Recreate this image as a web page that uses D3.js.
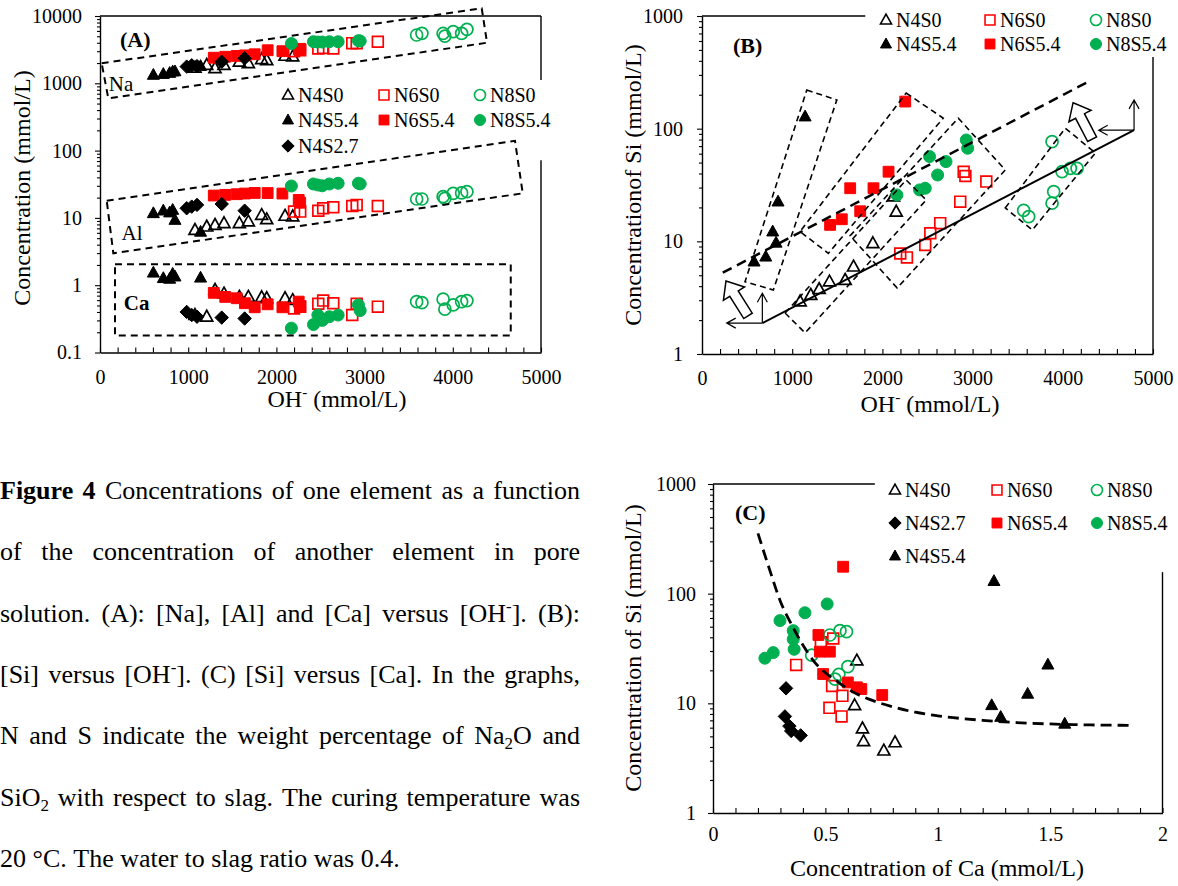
<!DOCTYPE html>
<html><head><meta charset="utf-8">
<script src="https://cdn.jsdelivr.net/npm/d3@7"></script>
<style>
body{margin:0;background:#fff;}
svg{display:block;font-family:"Liberation Serif","Times New Roman",serif;}
</style></head><body>
<script>
// ================= DATA =================
// ---- Panel A : [OH-] vs [Na], [Al], [Ca] (mmol/L) ----
const A_OH_N4S0 = [1077, 1210, 1304, 1406, 1580, 1682, 1833, 1890, 2098, 2185];
const A_Na_N4S0 = [1700, 1870, 1670, 1870, 2090, 1980, 2280, 2200, 2550, 2500];
const A_Al_N4S0 = [6.6, 7.4, 7.85, 8.3, 8.3, 8.8, 11, 9.5, 10.7, 10.5];
const A_Ca_N4S0 = [0.36, 0.34, 0.85, 0.75, 0.67, 0.67, 0.66, 0.64, 0.64, 0.60];

const A_OH_N4S54 = [605, 718, 790, 824, 850, 1140];
const A_Na_N4S54 = [1330, 1370, 1420, 1490, 1500, 1800];
const A_Al_N4S54 = [11.7, 12.8, 12.0, 13.1, 9.3, 6.2];
const A_Ca_N4S54 = [1.53, 1.27, 1.24, 1.47, 1.34, 1.29];

const A_OH_N4S27 = [983, 1040, 1100, 1380, 1640];
const A_Na_N4S27 = [1770, 1850, 1800, 2090, 2350];
const A_Al_N4S27 = [13.9, 14.7, 15.6, 16.1, 12.8];
const A_Ca_N4S27 = [0.40, 0.36, 0.34, 0.33, 0.32];

const A_OH_N6S0 = [2200, 2270, 2475, 2530, 2645, 2860, 2910, 3150];
const A_Na_N6S0 = [3000, 3100, 3300, 3350, 3300, 3950, 3930, 4150];
const A_Al_N6S0 = [12.4, 12.4, 12.8, 13.9, 14.4, 15.0, 15.6, 15.0];
const A_Ca_N6S0 = [0.45, 0.48, 0.53, 0.59, 0.54, 0.36, 0.53, 0.48];

const A_OH_N6S54 = [1290, 1420, 1550, 1643, 1754, 1901, 2068, 2253, 2270];
const A_Na_N6S54 = [2400, 2480, 2550, 2600, 2700, 3100, 3000, 3200, 3250];
const A_Al_N6S54 = [21.5, 22, 22.5, 23, 23.5, 23.4, 23, 18.5, 16.8];
const A_Ca_N6S54 = [0.77, 0.67, 0.64, 0.54, 0.47, 0.52, 0.47, 0.57, 0.49];

const A_OH_N8S0 = [3590, 3650, 3890, 3910, 4005, 4100, 4160];
const A_Na_N8S0 = [5220, 5530, 5500, 5030, 5850, 5530, 6340];
const A_Al_N8S0 = [19.1, 19.1, 20.7, 19.5, 23.2, 23.5, 24.5];
const A_Ca_N8S0 = [0.57, 0.55, 0.62, 0.44, 0.51, 0.57, 0.59];

const A_OH_N8S54 = [2170, 2420, 2470, 2520, 2600, 2700, 2930, 2950];
const A_Na_N8S54 = [3900, 4150, 4100, 4100, 4150, 4150, 4300, 4250];
const A_Al_N8S54 = [29.8, 31.9, 30.8, 30, 31.9, 32.7, 32.7, 32];
const A_Ca_N8S54 = [0.23, 0.26, 0.36, 0.30, 0.34, 0.36, 0.51, 0.42];

// dashed group boxes of panel A (corner points, data units)
const A_boxNa_OH = [19, 4328, 4388, 94];
const A_boxNa_C  = [1983, 13000, 4010, 598];
const A_boxAl_OH = [76, 4705, 4793, 151];
const A_boxAl_C  = [18.0, 140, 23.2, 2.98];
const A_boxCa_OH = [170, 4657];
const A_boxCa_C  = [2.05, 0.179];

// ---- Panel B : [OH-] vs [Si] ----
const B_OH_N4S0 = [1088, 1206, 1299, 1413, 1587, 1680, 1894, 2123, 2153];
const B_Si_N4S0 = [2.92, 3.34, 3.76, 4.39, 4.54, 5.96, 9.6, 25, 18.3];
const B_OH_N4S54 = [577, 707, 784, 821, 843, 1143];
const B_Si_N4S54 = [6.6, 7.3, 12.2, 9.7, 22.5, 128];
const B_OH_N6S0 = [2198, 2272, 2475, 2531, 2641, 2863, 2901, 2920, 3152];
const B_Si_N6S0 = [7.8, 7.2, 9.3, 11.8, 14.5, 22.5, 41.5, 38, 33.9];
const B_OH_N6S54 = [1420, 1550, 1643, 1754, 1901, 2068, 2253];
const B_Si_N6S54 = [14.0, 15.7, 29.6, 18.5, 29.6, 41.5, 174];
const B_OH_N8S0 = [3566, 3622, 3881, 3899, 3881, 3992, 4084, 4158];
const B_Si_N8S0 = [18.8, 16.6, 21.8, 27.6, 76.7, 41.5, 44.5, 44.5];
const B_OH_N8S54 = [2161, 2412, 2475, 2523, 2612, 2705, 2930, 2945];
const B_Si_N8S54 = [25.8, 28.6, 29.6, 56.5, 38.8, 51, 79.4, 67];

// lines of panel B
const B_solidOH = [669, 4790];
const B_solidSi = [1.88, 97];
const B_dashOH = [230, 4306];
const B_dashSi = [5.27, 267];
// thin arrows: origin OH, origin Si, left-end OH, top-end Si
const B_thinArrows = [[669, 1.88, 274, 3.46], [4790, 97, 4398, 180]];
// block arrows: tip OH, tip Si, tail OH, tail Si
const B_blockArrows = [[266, 4.45, 510, 2.18], [4114, 170, 4325, 80.6]];
// dashed group boxes (4 corners each: OH list, Si list)
const B_boxes_OH = [
  [1162, 1495, 791, 477],
  [2264, 2674, 1401, 1087],
  [921, 1143, 2486, 2264],
  [2841, 3362, 2164, 1642],
  [3362, 4028, 4361, 3662]
];
const B_boxes_Si = [
  [220, 180, 3.70, 4.38],
  [207, 124, 7.83, 12.2],
  [2.31, 1.54, 23.3, 35.0],
  [124, 43.0, 3.85, 11.2],
  [19.8, 101, 60.8, 12.6]
];

// ---- Panel C : [Ca] vs [Si] ----
const C_Ca_N4S0 = [0.64, 0.63, 0.665, 0.67, 0.76, 0.81];
const C_Si_N4S0 = [24.5, 9.6, 5.9, 4.5, 3.7, 4.4];
const C_Ca_N4S27 = [0.325, 0.32, 0.34, 0.348, 0.39];
const C_Si_N4S27 = [13.7, 7.6, 6.2, 5.6, 5.1];
const C_Ca_N4S54 = [1.25, 1.24, 1.28, 1.40, 1.49, 1.565];
const C_Si_N4S54 = [130, 9.6, 7.5, 12.2, 22.5, 6.5];
const C_Ca_N6S0 = [0.37, 0.48, 0.535, 0.53, 0.576, 0.518, 0.572];
const C_Si_N6S0 = [22.4, 36, 39, 14.4, 11.7, 9.1, 7.6];
const C_Ca_N6S54 = [0.579, 0.469, 0.476, 0.52, 0.49, 0.60, 0.64, 0.66, 0.753];
const C_Si_N6S54 = [176, 42, 29.6, 29.6, 18.5, 15.5, 14, 13.5, 11.9];
const C_Ca_N8S0 = [0.52, 0.565, 0.594, 0.439, 0.60, 0.543, 0.56];
const C_Si_N8S0 = [42, 46, 45, 27.5, 21.6, 16.6, 18.4];
const C_Ca_N8S54 = [0.231, 0.268, 0.298, 0.357, 0.409, 0.508, 0.357, 0.361];
const C_Si_N8S54 = [25.8, 29, 56.8, 46, 67, 80.6, 38.4, 31.1];
// dashed trend curve
const C_curveCa = [0.2, 0.25, 0.3, 0.35, 0.4, 0.45, 0.5, 0.55, 0.6, 0.7, 0.8, 0.9, 1.0, 1.2, 1.4, 1.6, 1.85];
const C_curveSi = [355, 170, 85, 52, 34, 24, 19, 16, 13.5, 10.8, 9.3, 8.3, 7.7, 7.0, 6.6, 6.4, 6.3];

// ---- ticks ----
const A_xTicks = [0, 1000, 2000, 3000, 4000, 5000];
const A_yTicks = [0.1, 1, 10, 100, 1000, 10000];
const B_xTicks = [0, 1000, 2000, 3000, 4000, 5000];
const B_yTicks = [1, 10, 100, 1000];
const C_xTicks = [0, 0.5, 1, 1.5, 2];
const C_xTickLabels = ["0", "0.5", "1", "1.5", "2"];
const C_yTicks = [1, 10, 100, 1000];

// ---- series names ----
const seriesKeys = ["N4S0", "N6S0", "N8S0", "N4S54", "N6S54", "N8S54", "N4S27"];
const seriesNames = {N4S0:"N4S0", N4S54:"N4S5.4", N4S27:"N4S2.7", N6S0:"N6S0", N6S54:"N6S5.4", N8S0:"N8S0", N8S54:"N8S5.4"};

// ---- caption ----
const captionLines = [
  "**Figure** **4** Concentrations of one element as a function",
  "of the concentration of another element in pore",
  "solution. (A): [Na], [Al] and [Ca] versus [OH^-]. (B):",
  "[Si] versus [OH^-]. (C) [Si] versus [Ca]. In the graphs,",
  "N and S indicate the weight percentage of Na_2O and",
  "SiO_2 with respect to slag. The curing temperature was",
  "20 °C. The water to slag ratio was 0.4."
];

// ================= DRAWING =================
const FONT = '"Liberation Serif","Times New Roman",serif';
const RED = "#ff0000", GREEN = "#00b050";
const sty = {
  N4S0:{shape:"tri", fill:"none", stroke:"#000"},
  N4S54:{shape:"tri", fill:"#000", stroke:"#000"},
  N4S27:{shape:"dia", fill:"#000", stroke:"#000"},
  N6S0:{shape:"sq", fill:"none", stroke:RED},
  N6S54:{shape:"sq", fill:RED, stroke:RED},
  N8S0:{shape:"circ", fill:"none", stroke:GREEN},
  N8S54:{shape:"circ", fill:GREEN, stroke:GREEN}
};
function shapePath(shape, s){
  if(shape==="tri"){const w=s/2,h=s*0.9;return `M0,${-h*0.6}L${w},${h*0.4}L${-w},${h*0.4}Z`;}
  if(shape==="sq"){const a=s*0.45;return `M${-a},${-a}H${a}V${a}H${-a}Z`;}
  if(shape==="dia"){const a=s*0.56;return `M0,${-a}L${a},0L0,${a}L${-a},0Z`;}
  const r=s/2;return `M${r},0A${r},${r} 0 1,1 ${-r},0A${r},${r} 0 1,1 ${r},0Z`;
}

const svg = d3.select("body").append("svg").attr("width",1178).attr("height",886);
svg.append("rect").attr("width",1178).attr("height",886).attr("fill","#fff");

// scales
const xA = d3.scaleLinear().domain([0,5000]).range([100,541]);
const yA = d3.scaleLog().domain([0.1,10000]).range([352.5,16]);
const xB = d3.scaleLinear().domain([0,5000]).range([702,1153]);
const yB = d3.scaleLog().domain([1,1000]).range([354,16]);
const xC = d3.scaleLinear().domain([0,2]).range([713,1162.5]);
const yC = d3.scaleLog().domain([1,1000]).range([813,484]);

function logMinor(lo,hi){
  const out=[];
  for(let e=Math.round(Math.log10(lo)); e<Math.round(Math.log10(hi)); e++){
    for(let m=2;m<=9;m++) out.push(m*Math.pow(10,e));
  }
  return out;
}

function drawAxes(x,y,xMajor,xLabels,xStep,yMajor,xPad,yPad){
  const [x0,x1]=x.domain(), [y0,y1]=y.domain();
  const xt=d3.range(x0, x1+xStep/2, xStep);
  const gx=svg.append("g").attr("transform",`translate(0,${y(y0)})`)
    .call(d3.axisBottom(x).tickValues(xt).tickSizeInner(-5).tickSizeOuter(0).tickPadding(xPad)
      .tickFormat(d=>{const i=xMajor.findIndex(m=>Math.abs(m-d)<1e-6);return i>=0?xLabels[i]:"";}));
  const gy1=svg.append("g").attr("transform",`translate(${x(x0)},0)`)
    .call(d3.axisLeft(y).tickValues(logMinor(y0,y1)).tickSize(3).tickFormat(""));
  gy1.select(".domain").remove();
  const gy2=svg.append("g").attr("transform",`translate(${x(x0)},0)`)
    .call(d3.axisLeft(y).tickValues(yMajor).tickSizeInner(5).tickSizeOuter(0).tickPadding(yPad)
      .tickFormat(d=>String(d)));
  [gx,gy1,gy2].forEach(g=>{
    g.attr("font-family",FONT);
    g.selectAll("text").attr("font-family",FONT).attr("font-size",20).attr("fill","#000");
    g.selectAll("line").attr("stroke","#000").attr("stroke-width",1.1);
    g.selectAll(".domain").attr("stroke","#000").attr("stroke-width",1.4);
  });
}
function seg(x1,y1,x2,y2){
  svg.append("line").attr("x1",x1).attr("y1",y1).attr("x2",x2).attr("y2",y2)
    .attr("stroke","#000").attr("stroke-width",1.4);
}
function plotSeries(key,xs,ys,x,y,s){
  const st=sty[key];
  svg.append("g").selectAll("path").data(xs.map((v,i)=>[v,ys[i]])).join("path")
    .attr("transform",d=>`translate(${x(d[0])},${y(d[1])})`)
    .attr("d",shapePath(st.shape,s))
    .attr("fill",st.fill).attr("stroke",st.stroke)
    .attr("stroke-width",st.fill==="none"?1.7:1);
}
function legend(rows, xs, ys){
  rows.forEach((row,r)=>row.forEach((key,c)=>{
    if(!key) return;
    const st=sty[key];
    svg.append("path").attr("transform",`translate(${xs[c]},${ys[r]})`)
      .attr("d",shapePath(st.shape,11)).attr("fill",st.fill).attr("stroke",st.stroke)
      .attr("stroke-width",st.fill==="none"?1.6:1);
    svg.append("text").attr("x",xs[c]+10).attr("y",ys[r]+7).attr("font-size",20)
      .attr("font-family",FONT).text(seriesNames[key]);
  }));
}
function dashedPoly(xsD,ysD,x,y,w,dash){
  const pts=xsD.map((v,i)=>[x(v),y(ysD[i])]);
  svg.append("path").attr("d",d3.line()(pts)+"Z").attr("fill","none")
    .attr("stroke","#000").attr("stroke-width",w).attr("stroke-dasharray",dash);
}
function text(x,y,str,opt={}){
  const t=svg.append("text").attr("x",x).attr("y",y).attr("font-family",FONT)
    .attr("font-size",opt.size||24).attr("font-weight",opt.bold?"bold":"normal")
    .attr("text-anchor",opt.anchor||"start");
  if(opt.rot) t.attr("transform",`rotate(-90,${x},${y})`);
  t.text(str); return t;
}
function ohTitle(cx,y){
  const t=svg.append("text").attr("x",cx).attr("y",y).attr("font-family",FONT).attr("font-size",24)
    .attr("text-anchor","middle");
  t.append("tspan").text("OH");
  t.append("tspan").attr("font-size",15).attr("dy",-10).text("-");
  t.append("tspan").attr("dy",10).text(" (mmol/L)");
}

// ---------- Panel A ----------
drawAxes(xA,yA,A_xTicks,A_xTicks.map(String),200,A_yTicks,17,13);
seg(xA(0),yA(1e4),xA(5000),yA(1e4));
seg(xA(5000),yA(1e4),xA(5000),yA(1120));
seg(xA(5000),yA(72),xA(5000),yA(0.1));
const Adata = {
  N4S0:[A_OH_N4S0,A_Na_N4S0,A_Al_N4S0,A_Ca_N4S0],
  N4S54:[A_OH_N4S54,A_Na_N4S54,A_Al_N4S54,A_Ca_N4S54],
  N4S27:[A_OH_N4S27,A_Na_N4S27,A_Al_N4S27,A_Ca_N4S27],
  N6S0:[A_OH_N6S0,A_Na_N6S0,A_Al_N6S0,A_Ca_N6S0],
  N6S54:[A_OH_N6S54,A_Na_N6S54,A_Al_N6S54,A_Ca_N6S54],
  N8S0:[A_OH_N8S0,A_Na_N8S0,A_Al_N8S0,A_Ca_N8S0],
  N8S54:[A_OH_N8S54,A_Na_N8S54,A_Al_N8S54,A_Ca_N8S54]
};
seriesKeys.forEach(k=>{const d=Adata[k];[1,2,3].forEach(j=>plotSeries(k,d[0],d[j],xA,yA,12));});
dashedPoly(A_boxNa_OH,A_boxNa_C,xA,yA,2,"7,5");
dashedPoly(A_boxAl_OH,A_boxAl_C,xA,yA,2,"7,5");
dashedPoly([A_boxCa_OH[0],A_boxCa_OH[1],A_boxCa_OH[1],A_boxCa_OH[0]],
           [A_boxCa_C[0],A_boxCa_C[0],A_boxCa_C[1],A_boxCa_C[1]],xA,yA,2,"7,5");
legend([["N4S0","N6S0","N8S0"],["N4S54","N6S54","N8S54"],["N4S27"]],[288,384,480],[95,120,146]);
text(xA(227),yA(3500),"(A)",{size:22,bold:true});
text(xA(100),91,"Na",{size:21});
text(xA(245),240,"Al",{size:21});
text(xA(270),310,"Ca",{size:21,bold:true});
text(22,188,"Concentration (mmol/L)",{rot:true,anchor:"middle"}).attr("dy","0.35em");
ohTitle(337,407);

// ---------- Panel B ----------
drawAxes(xB,yB,B_xTicks,B_xTicks.map(String),200,B_yTicks,17,14);
seg(xB(0),yB(1000),xB(1810),yB(1000));
seg(xB(5000),yB(433),xB(5000),yB(1));
const Bdata = {N4S0:[B_OH_N4S0,B_Si_N4S0],N4S54:[B_OH_N4S54,B_Si_N4S54],N6S0:[B_OH_N6S0,B_Si_N6S0],
  N6S54:[B_OH_N6S54,B_Si_N6S54],N8S0:[B_OH_N8S0,B_Si_N8S0],N8S54:[B_OH_N8S54,B_Si_N8S54]};
seriesKeys.forEach(k=>{if(Bdata[k]) plotSeries(k,Bdata[k][0],Bdata[k][1],xB,yB,12);});
B_boxes_OH.forEach((b,i)=>dashedPoly(b,B_boxes_Si[i],xB,yB,1.6,"6,4"));
svg.append("path").attr("d",d3.line()(B_dashOH.map((v,i)=>[xB(v),yB(B_dashSi[i])])))
  .attr("stroke","#000").attr("stroke-width",2.5).attr("stroke-dasharray","10,6").attr("fill","none");
svg.append("path").attr("d",d3.line()(B_solidOH.map((v,i)=>[xB(v),yB(B_solidSi[i])])))
  .attr("stroke","#000").attr("stroke-width",2).attr("fill","none");
B_thinArrows.forEach(a=>{
  const ox=xB(a[0]), oy=yB(a[1]), lx=xB(a[2]), ty=yB(a[3]);
  svg.append("path").attr("d",`M${ox},${oy}H${lx}M${lx+9},${oy-5}L${lx},${oy}L${lx+9},${oy+5}`+
    `M${ox},${oy}V${ty}M${ox-5},${ty+9}L${ox},${ty}L${ox+5},${ty+9}`)
    .attr("fill","none").attr("stroke","#000").attr("stroke-width",1.2);
});
B_blockArrows.forEach(a=>{
  const T=[xB(a[0]),yB(a[1])], P=[xB(a[2]),yB(a[3])];
  const L=Math.hypot(T[0]-P[0],T[1]-P[1]);
  const u=[(T[0]-P[0])/L,(T[1]-P[1])/L], n=[-u[1],u[0]];
  const hl=15, hw=12.5, sw=5;
  const H=[T[0]-u[0]*hl,T[1]-u[1]*hl];
  const pts=[T,[H[0]+n[0]*hw,H[1]+n[1]*hw],[H[0]+n[0]*sw,H[1]+n[1]*sw],[P[0]+n[0]*sw,P[1]+n[1]*sw],
    [P[0]-n[0]*sw,P[1]-n[1]*sw],[H[0]-n[0]*sw,H[1]-n[1]*sw],[H[0]-n[0]*hw,H[1]-n[1]*hw]];
  svg.append("path").attr("d",d3.line()(pts)+"Z").attr("fill","#fff").attr("stroke","#000").attr("stroke-width",1.5);
});
legend([["N4S0","N6S0","N8S0"],["N4S54","N6S54","N8S54"]],[886,990,1096],[20,44]);
text(733,53,"(B)",{size:22,bold:true});
text(633,185,"Concentrationof Si (mmol/L)",{rot:true,anchor:"middle"}).attr("dy","0.35em");
ohTitle(930,412);

// ---------- Panel C ----------
drawAxes(xC,yC,C_xTicks,C_xTickLabels,0.1,C_yTicks,14,12);
seg(xC(0),yC(1000),xC(0.72),yC(1000));
seg(xC(2),yC(157),xC(2),yC(1));
const Cdata = {N4S0:[C_Ca_N4S0,C_Si_N4S0],N4S27:[C_Ca_N4S27,C_Si_N4S27],N4S54:[C_Ca_N4S54,C_Si_N4S54],
  N6S0:[C_Ca_N6S0,C_Si_N6S0],N6S54:[C_Ca_N6S54,C_Si_N6S54],N8S0:[C_Ca_N8S0,C_Si_N8S0],N8S54:[C_Ca_N8S54,C_Si_N8S54]};
seriesKeys.forEach(k=>plotSeries(k,Cdata[k][0],Cdata[k][1],xC,yC,12));
svg.append("path").attr("d",d3.line().curve(d3.curveMonotoneX)(C_curveCa.map((v,i)=>[xC(v),yC(C_curveSi[i])])))
  .attr("stroke","#000").attr("stroke-width",2.8).attr("stroke-dasharray","11,6").attr("fill","none");
legend([["N4S0","N6S0","N8S0"],["N4S27","N6S54","N8S54"],["N4S54"]],[895,997,1097],[490,523,556]);
text(735,520,"(C)",{size:22,bold:true});
text(633,648,"Concentration of Si (mmol/L)",{rot:true,anchor:"middle"}).attr("dy","0.35em");
text(937,876,"Concentration of Ca (mmol/L)",{anchor:"middle"});

// ---------- Caption ----------
const capX0=0, capX1=580, capFS=26, capY0=499, capDY=61.3;
function appendWord(t,w){
  if(w.startsWith("**")){t.append("tspan").attr("font-weight","bold").text(w.replace(/\*\*/g,""));return;}
  const parts=w.split(/(_\d|\^-)/).filter(p=>p!=="");
  let shift=0;
  parts.forEach(p=>{
    if(p.startsWith("_")){t.append("tspan").attr("font-size",17).attr("dy",5).text(p.slice(1));shift=5;}
    else if(p==="^-"){t.append("tspan").attr("font-size",17).attr("dy",-10).text("-");shift=-10;}
    else {const s=t.append("tspan").text(p); if(shift){s.attr("dy",-shift);shift=0;}}
  });
}
captionLines.forEach((line,i)=>{
  const words=line.split(" ");
  const y=capY0+i*capDY;
  const nodes=words.map(w=>{
    const t=svg.append("text").attr("y",y).attr("font-size",capFS).attr("font-family",FONT).attr("fill","#000");
    appendWord(t,w); return t;
  });
  const widths=nodes.map(t=>t.node().getComputedTextLength());
  const sum=d3.sum(widths);
  const last=i===captionLines.length-1;
  const gap=last?capFS*0.25:(capX1-capX0-sum)/(words.length-1);
  let x=capX0;
  nodes.forEach((t,j)=>{t.attr("x",x);x+=widths[j]+gap;});
});
</script>
</body></html>
